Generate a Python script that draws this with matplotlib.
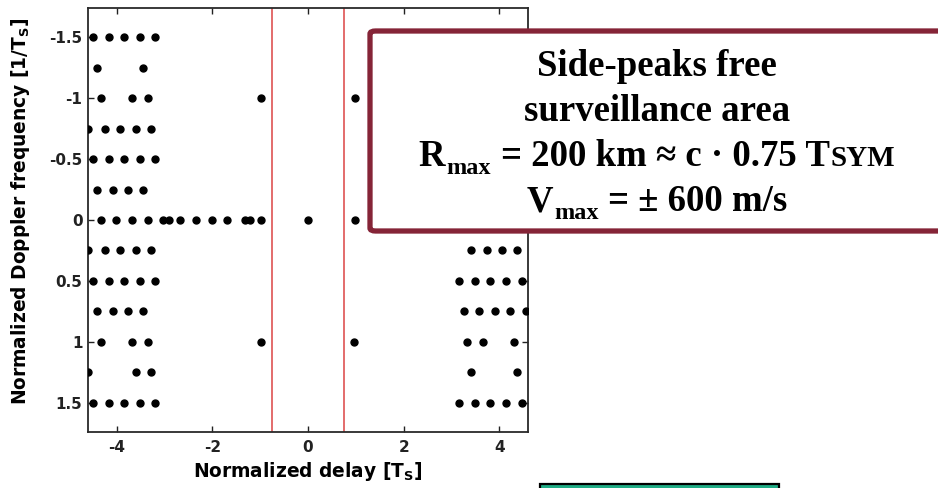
import numpy as np
import matplotlib.pyplot as plt
from matplotlib.patches import FancyBboxPatch, Rectangle

## Figure size in pixels
W, H = 938, 488

## Side-peak positions: one delay list per Doppler row
doppler_rows = [-1.5, -1.25, -1.0, -0.75, -0.5, -0.25, 0.0, 0.25, 0.5, 0.75, 1.0, 1.25, 1.5]
delay_rows = [
    [-4.50, -4.17, -3.85, -3.52, -3.20],
    [-4.42, -3.45],
    [-4.33, -3.69, -3.35, -0.98, 0.98],
    [-4.60, -4.25, -3.93, -3.60, -3.29],
    [-4.50, -4.17, -3.85, -3.52, -3.20],
    [-4.42, -4.08, -3.76, -3.45],
    [-4.33, -4.02, -3.69, -3.35, -3.03, -2.91, -2.68, -2.34, -2.01, -1.70,
     -1.32, -1.22, -0.98, 0.0, 0.98],
    [-4.60, -4.25, -3.93, -3.60, -3.29, 3.41, 3.75, 4.06, 4.38],
    [-4.50, -4.17, -3.85, -3.52, -3.20, 3.16, 3.50, 3.81, 4.15, 4.48],
    [-4.42, -4.08, -3.76, -3.45, 3.27, 3.58, 3.92, 4.23, 4.55],
    [-4.33, -3.69, -3.35, -0.98, 0.96, 3.33, 3.66, 4.31],
    [-4.60, -3.60, -3.29, 3.41, 4.38],
    [-4.50, -4.17, -3.85, -3.52, -3.20, 3.16, 3.50, 3.81, 4.15, 4.48],
]

## Guard interval limits (c * 0.75 Tsym)
guard = [-0.75, 0.75]

## Tick labels
x_ticks = [-4, -2, 0, 2, 4]
x_tick_labels = ["-4", "-2", "0", "2", "4"]
y_ticks = [-1.5, -1, -0.5, 0, 0.5, 1, 1.5]
y_tick_labels = ["-1.5", "-1", "-0.5", "0", "0.5", "1", "1.5"]

## Figure and axes
fig = plt.figure(figsize=(W / 100, H / 100), dpi=100)
ax = fig.add_axes([88 / W, 1 - 432 / H, 440 / W, 424 / H])

delays = np.concatenate([np.array(r) for r in delay_rows])
dopplers = np.concatenate([np.full(len(r), d) for r, d in zip(delay_rows, doppler_rows)])
ax.plot(delays, dopplers, 'o', color='black', markersize=5, linestyle='none', zorder=3)

for g in guard:
    ax.axvline(g, color='#e06060', linewidth=1.3, zorder=2)

ax.set_xlim(-4.6, 4.6)
ax.set_ylim(1.74, -1.74)
ax.set_xticks(x_ticks)
ax.set_xticklabels(x_tick_labels, fontweight='bold', fontsize=11)
ax.set_yticks(y_ticks)
ax.set_yticklabels(y_tick_labels, fontweight='bold', fontsize=11)
ax.tick_params(direction='in', length=4, width=1, top=True, right=True,
               colors='#222222')
ax.tick_params(axis='x', pad=6)
ax.tick_params(axis='y', pad=4)
for s in ax.spines.values():
    s.set_color('#2a2a2a')
    s.set_linewidth(1.3)

ax.set_xlabel(r"Normalized delay [T$_\mathbf{S}$]", fontsize=13.4, fontweight='bold',
              va='baseline')
ax.xaxis.set_label_coords(0.5, -45 / 424)
ax.set_ylabel(r"Normalized Doppler frequency [1/T$_\mathbf{S}$]", fontsize=13.4,
              fontweight='bold', va='center')
ax.yaxis.set_label_coords(-67 / 440, 0.52)

## Annotation box (runs off the right edge)
box = FancyBboxPatch((370 / W, 1 - 231 / H), 600 / W, 200 / H,
                     boxstyle='round,pad=0,rounding_size=0.006',
                     transform=fig.transFigure, facecolor='white',
                     edgecolor='#852437', linewidth=3.8, zorder=10, clip_on=False)
fig.patches.append(box)

## Green box at the bottom (cut off)
gbox = Rectangle((540 / W, -0.05), 239 / W, 0.05 + 4 / H, transform=fig.transFigure,
                 facecolor='#20ad86', edgecolor='black', linewidth=1.6, zorder=10)
fig.patches.append(gbox)

renderer = fig.canvas.get_renderer()


def centered_line(pieces, xc, y_base):
    # pieces: (text, fontsize, gap before in px, drop below baseline in px)
    texts = []
    for s, size, gap, drop in pieces:
        t = fig.text(0, 0, s, fontsize=size, fontweight='bold', family='Liberation Serif',
                     va='baseline', ha='left', zorder=11)
        texts.append((t, gap, drop))
    widths = [t.get_window_extent(renderer).width for t, _, _ in texts]
    total = sum(widths) + sum(g for _, g, _ in texts)
    x = xc - total / 2
    for (t, gap, drop), w in zip(texts, widths):
        x += gap
        t.set_position((x / W, 1 - (y_base + drop) / H))
        x += w


big, sub, caps = 26.5, 17.5, 21
xc = 657
centered_line([("Side-peaks free", big, 0, 0)], xc, 76)
centered_line([("surveillance area", big, 0, 0)], xc, 121)
centered_line([("R", big, 0, 0), ("max", sub, 1, 8),
               ("= 200 km \u2248 c \u00b7 0.75 T", big, 10, 0),
               ("SYM", caps, 1, 0)], xc, 166)
centered_line([("V", big, 0, 0), ("max", sub, 1, 8),
               ("= \u00b1 600 m/s", big, 10, 0)], xc, 211)

fig.savefig("out.png", dpi=100, facecolor='white')
